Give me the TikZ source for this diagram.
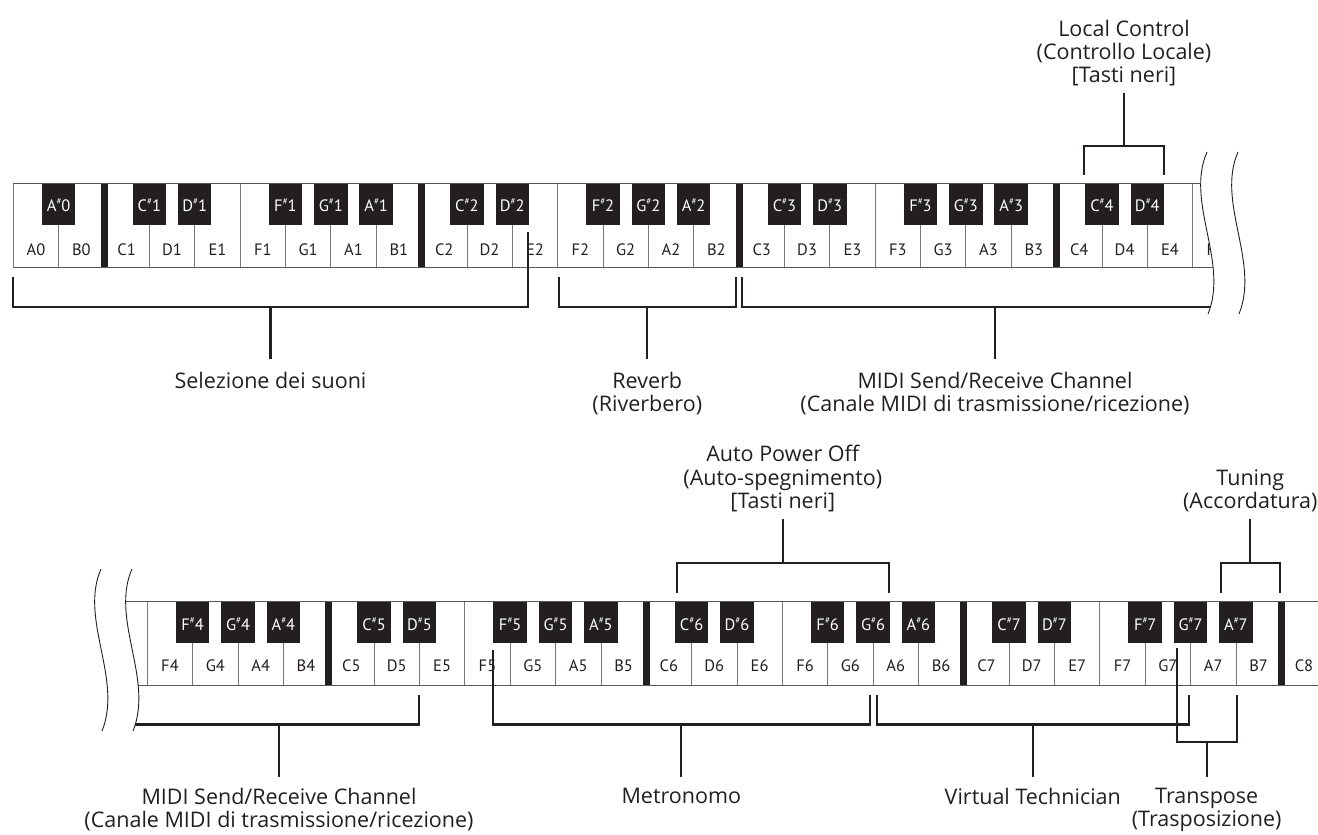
\documentclass[tikz,border=0pt]{standalone}
\usepackage{fontspec}
\setmainfont{PT Sans}
\newfontfamily\lblfont{Open Sans}
\usetikzlibrary{positioning,calc}
\definecolor{ink}{HTML}{231F20}
\definecolor{keyline}{HTML}{77787B}
\definecolor{edgeline}{HTML}{58595B}
\newcommand{\shp}{\raisebox{0.42em}{\fontsize{9}{9}\selectfont\#}}

\begin{document}
\begin{tikzpicture}[x=1pt, y=-1pt,
    whitekey/.style={draw=keyline, line width=0.8pt, fill=white},
    wlabel/.style={font=\fontsize{16.5}{16.5}\selectfont, text=ink, inner sep=0pt},
    blabel/.style={font=\fontsize{16.5}{16.5}\selectfont, text=white, inner sep=0pt},
    lbl/.style={font=\lblfont\fontsize{21.5}{23.3}\selectfont, text=ink, align=center, inner sep=0pt},
    bracket/.style={draw=ink, line width=2.2pt},
    edge/.style={draw=edgeline, line width=1.3pt},
    wavy/.style={draw=ink, line width=0.9pt}
]
\useasboundingbox (0,0) rectangle (1318,835);

% Upper keyboard (A0 - F4)
\foreach \n [count=\i from 0] in {A0,B0,C1,D1,E1,F1,G1,A1,B1,C2,D2,E2,F2,G2,A2,B2,C3,D3,E3,F3,G3,A3,B3,C4,D4,E4,F4} {
  \draw[whitekey] ({13.3+\i*45.36},183.3) rectangle ++(45.36,84.4);
  \node[wlabel, anchor=base] (t\n) at ({13.3+(\i+0.5)*45.36},255) {\n};
}
\foreach \b in {2,9,16,23}
  \fill[ink] ({13.3+\b*45.36-3.5},183.3) rectangle ++(7,84.4);
\foreach \b/\l/\o in {1/A/0,3/C/1,4/D/1,6/F/1,7/G/1,8/A/1,10/C/2,11/D/2,13/F/2,14/G/2,15/A/2,17/C/3,18/D/3,20/F/3,21/G/3,22/A/3,24/C/4,25/D/4} {
  \fill[ink] ({13.3+\b*45.36-16.75},183.3) rectangle ++(33.5,42);
  \node[blabel, anchor=base] (t\l-sharp\o) at ({13.3+\b*45.36},211.7) {\l\shp\o};
}
\draw[edge] (13.3,183.3) -- (1240,183.3) (13.3,267.7) -- (1240,267.7);

% Lower keyboard (E4 - C8)
\draw[whitekey] (101.9,601.7) rectangle ++(45.4,84);
\foreach \n [count=\i from 0] in {F4,G4,A4,B4,C5,D5,E5,F5,G5,A5,B5,C6,D6,E6,F6,G6,A6,B6,C7,D7,E7,F7,G7,A7,B7,C8} {
  \draw[whitekey] ({147.3+\i*45.36},601.7) rectangle ++(45.36,84);
  \node[wlabel, anchor=base] (b\n) at ({147.3+(\i+0.5)*45.36},671.7) {\n};
}
\foreach \b in {4,11,18,25}
  \fill[ink] ({147.3+\b*45.36-3.5},601.7) rectangle ++(7,84);
\foreach \b/\l/\o in {1/F/4,2/G/4,3/A/4,5/C/5,6/D/5,8/F/5,9/G/5,10/A/5,12/C/6,13/D/6,15/F/6,16/G/6,17/A/6,19/C/7,20/D/7,22/F/7,23/G/7,24/A/7} {
  \fill[ink] ({147.3+\b*45.36-16.75},601.7) rectangle ++(33.5,41.6);
  \node[blabel, anchor=base] (b\l-sharp\o) at ({147.3+\b*45.36},630) {\l\shp\o};
}
\draw[edge] (100,601.7) -- (1318,601.7) (100,685.7) -- (1318,685.7);

% Brackets, upper keyboard
\coordinate (selL) at (13.3,276.7);
\coordinate (selR) at (527.7,231.7);
\coordinate (selS) at (270.5,359);
\draw[bracket] (selL) |- (selR |- 0,306.7) -- (selR);
\draw[bracket] (selS) -- (selS |- 0,306.7);

\coordinate (revL) at (559,276.7);
\coordinate (revR) at (735.7,276.7);
\coordinate (revS) at (647.3,359);
\draw[bracket] (revL) |- (revR |- 0,306.7) -- (revR);
\draw[bracket] (revS) -- (revS |- 0,306.7);

\coordinate (midiL) at (742.3,276.7);
\coordinate (midiR) at (1225,306.7);
\coordinate (midiS) at (995,359);
\draw[bracket] (midiL) |- (midiR);
\draw[bracket] (midiS) -- (midiS |- 0,306.7);

\coordinate (locL) at (1084.3,175);
\coordinate (locR) at (1164,175);
\coordinate (locS) at (1124,93.3);
\draw[bracket] (locL) |- (locR |- 0,145.7) -- (locR);
\draw[bracket] (locS) -- (locS |- 0,145.7);

% Brackets, lower keyboard
\coordinate (midiBL) at (110,724.4);
\coordinate (midiBR) at (419.3,694.6);
\coordinate (midiBS) at (279,776.7);
\draw[bracket] (midiBL) -| (midiBR);
\draw[bracket] (midiBS) -- (midiBS |- 0,724.4);

\coordinate (metL) at (492.7,650);
\coordinate (metR) at (870,694.6);
\coordinate (metS) at (681.3,776.7);
\draw[bracket] (metL) |- (metR |- 0,724.4) -- (metR);
\draw[bracket] (metS) -- (metS |- 0,724.4);

\coordinate (virL) at (876.7,694.6);
\coordinate (virR) at (1189.3,694.6);
\coordinate (virS) at (1032.8,776.7);
\draw[bracket] (virL) |- (virR |- 0,724.4) -- (virR);
\draw[bracket] (virS) -- (virS |- 0,724.4);

\coordinate (traL) at (1176.7,648);
\coordinate (traR) at (1236.7,694.6);
\coordinate (traS) at (1206.7,776.7);
\draw[bracket] (traL) |- (traR |- 0,742) -- (traR);
\draw[bracket] (traS) -- (traS |- 0,742);

\coordinate (autoL) at (676.7,593.3);
\coordinate (autoR) at (889,593.3);
\coordinate (autoS) at (782.8,519);
\draw[bracket] (autoL) |- (autoR |- 0,563.3) -- (autoR);
\draw[bracket] (autoS) -- (autoS |- 0,563.3);

\coordinate (tunL) at (1220.7,593.3);
\coordinate (tunR) at (1280,593.3);
\coordinate (tunS) at (1250.3,519);
\draw[bracket] (tunL) |- (tunR |- 0,563.3) -- (tunR);
\draw[bracket] (tunS) -- (tunS |- 0,563.3);

% Keyboard breaks
\fill[white] (1207,152) .. controls +(-22,50) and +(21,-52) .. +(1,162) -- (1318,314) -- (1318,152) -- cycle;
\draw[wavy] (1207,152) .. controls +(-22,50) and +(21,-52) .. +(1,162);
\draw[wavy] (1238,152) .. controls +(-22,50) and +(21,-52) .. +(1,162);
\fill[white] (132,569) .. controls +(-22,50) and +(21,-52) .. +(1,162) -- (0,731) -- (0,569) -- cycle;
\draw[wavy] (101,569) .. controls +(-22,50) and +(21,-52) .. +(1,162);
\draw[wavy] (132,569) .. controls +(-22,50) and +(21,-52) .. +(1,162);

% Labels
\node[lbl, below=13pt of selS] (selez) {Selezione dei suoni};
\node[lbl, below=13pt of revS] (reverb) {Reverb\\(Riverbero)};
\node[lbl, below=13pt of midiS] (midi) {MIDI Send/Receive Channel\\(Canale MIDI di trasmissione/ricezione)};
\node[lbl, above=7pt of locS] (local) {Local Control\\(Controllo Locale)\\{[Tasti neri]}};
\node[lbl, above=7pt of autoS] (auto) {Auto Power Off\\(Auto-spegnimento)\\{[Tasti neri]}};
\node[lbl, above=7pt of tunS] (tuning) {Tuning\\(Accordatura)};
\node[lbl, below=11pt of midiBS] (midib) {MIDI Send/Receive Channel\\(Canale MIDI di trasmissione/ricezione)};
\node[lbl, below=11pt of metS] (metro) {Metronomo};
\node[lbl, below=11pt of virS] (virtual) {Virtual Technician};
\node[lbl, below=11pt of traS] (transp) {Transpose\\(Trasposizione)};

\end{tikzpicture}
\end{document}
